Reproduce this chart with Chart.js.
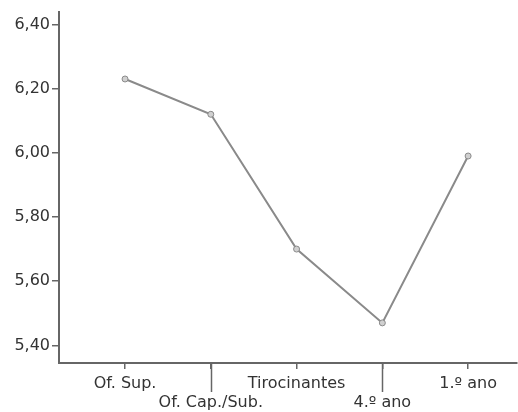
<!DOCTYPE html>
<html>
<head>
<meta charset="utf-8">
<script src="https://cdn.jsdelivr.net/npm/chart.js@4"></script>
<style>
  html, body { margin: 0; padding: 0; background: #fff; }
  #wrap { width: 518px; height: 412px; }
</style>
</head>
<body>
<div id="wrap"><canvas id="grafico" width="518" height="412"></canvas></div>
<script>
// dados
const categorias = ['Of. Sup.', 'Of. Cap./Sub.', 'Tirocinantes', '4.º ano', '1.º ano'];
const medias = [6.23, 6.12, 5.70, 5.47, 5.99];
const ticksY = [5.40, 5.60, 5.80, 6.00, 6.20, 6.40];

const fonte = { family: 'DejaVu Sans', size: 16 };
const corTexto = '#333';
const corEixo = '#666';

// marcas longas nas categorias da segunda linha
const ticksLongos = {
  id: 'ticksLongos',
  afterDraw(chart) {
    const x = chart.scales.x;
    const c = chart.ctx;
    c.save();
    c.strokeStyle = corEixo;
    c.lineWidth = 1.5;
    categorias.forEach((cat, i) => {
      if (i % 2 === 1) {
        const px = Math.round(x.getPixelForValue(i + 1)) + 0.5;
        c.beginPath();
        c.moveTo(px, x.top);
        c.lineTo(px, x.top + 29);
        c.stroke();
      }
    });
    c.restore();
  }
};

new Chart(document.getElementById('grafico'), {
  type: 'line',
  data: {
    datasets: [{
      data: medias.map((v, i) => ({ x: i + 1, y: v })),
      borderColor: '#8a8a8a',
      borderWidth: 2,
      pointRadius: 3,
      pointBackgroundColor: '#d0d0d0',
      pointBorderColor: '#8a8a8a',
      pointBorderWidth: 1,
      tension: 0
    }]
  },
  options: {
    responsive: false,
    animation: false,
    layout: { autoPadding: false, padding: { top: 7, right: 1, left: 0, bottom: 0 } },
    plugins: { legend: { display: false }, tooltip: { enabled: false } },
    scales: {
      x: {
        type: 'linear',
        min: 0.23,
        max: 5.57,
        afterBuildTicks: (scale) => {
          scale.ticks = categorias.map((c, i) => ({ value: i + 1 }));
        },
        afterFit: (scale) => {
          scale.height = 49;
        },
        ticks: {
          autoSkip: false,
          maxRotation: 0,
          font: fonte,
          color: corTexto,
          padding: 5,
          callback: (v) => {
            const i = Math.round(v) - 1;
            return i % 2 === 1 ? ['', categorias[i]] : [categorias[i]];
          }
        },
        grid: { drawOnChartArea: false, drawTicks: true, tickLength: 6, color: corEixo, lineWidth: 1.5 },
        border: { display: true, color: corEixo, width: 2 }
      },
      y: {
        min: 5.345,
        max: 6.44,
        afterBuildTicks: (scale) => {
          scale.ticks = ticksY.map(v => ({ value: v }));
        },
        afterFit: (scale) => { scale.width = 59; },
        ticks: {
          font: fonte,
          color: corTexto,
          padding: 2,
          callback: (v) => v.toFixed(2).replace('.', ',')
        },
        grid: { drawOnChartArea: false, drawTicks: true, tickLength: 7, color: corEixo, lineWidth: 1.5 },
        border: { display: true, color: corEixo, width: 2 }
      }
    }
  },
  plugins: [ticksLongos]
});
</script>
</body>
</html>
